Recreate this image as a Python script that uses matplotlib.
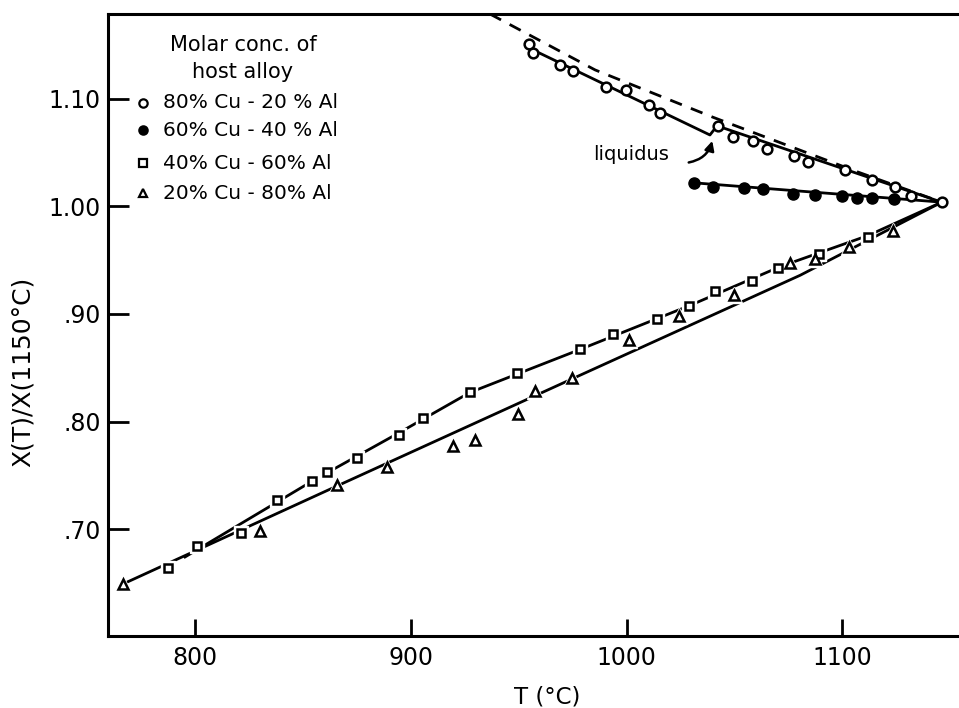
#!/usr/bin/env python3

"""
Relative solubility X(T)/X(1150 C) vs temperature for four Cu-Al host alloys.
"""

import matplotlib
matplotlib.use("Agg")
import matplotlib.pyplot as plt

# [data]
# --
# 80% Cu - 20% Al (open circles)
t_80 = [954.9, 956.5, 969.1, 975.3, 990.5, 999.6, 1010.4, 1015.6, 1042.2,
        1049.1, 1058.6, 1065.1, 1077.6, 1083.9, 1101.1, 1113.6, 1124.4,
        1131.6, 1146.0]
x_80 = [1.151, 1.143, 1.132, 1.126, 1.111, 1.108, 1.094, 1.087, 1.075,
        1.065, 1.061, 1.053, 1.047, 1.041, 1.034, 1.025, 1.018, 1.010, 1.004]

# 60% Cu - 40% Al (filled circles)
t_60 = [1031.2, 1039.9, 1054.5, 1063.3, 1077.2, 1087.3, 1099.9, 1106.6,
        1113.6, 1124.0]
x_60 = [1.022, 1.018, 1.017, 1.016, 1.012, 1.011, 1.010, 1.008, 1.008, 1.007]

# 40% Cu - 60% Al (open squares)
t_40 = [787.6, 801.1, 821.2, 838.1, 854.4, 861.0, 874.9, 894.4, 905.8, 927.6,
        949.4, 978.3, 993.8, 1014.2, 1029.1, 1041.0, 1058.0, 1070.2, 1089.3,
        1112.0]
x_40 = [0.664, 0.684, 0.696, 0.727, 0.745, 0.753, 0.766, 0.787, 0.803, 0.827,
        0.845, 0.867, 0.881, 0.895, 0.907, 0.921, 0.931, 0.943, 0.956, 0.972]

# 20% Cu - 80% Al (open triangles)
t_20 = [766.8, 830.1, 865.7, 889.1, 919.7, 929.7, 949.8, 957.6, 974.6, 1001.1,
        1024.3, 1049.9, 1075.7, 1087.3, 1103.2, 1123.4]
x_20 = [0.649, 0.698, 0.741, 0.758, 0.777, 0.783, 0.807, 0.828, 0.840, 0.876,
        0.898, 0.918, 0.947, 0.951, 0.962, 0.977]

# fitted curves drawn through the data
curve_80_t = [956.2, 1038.6, 1041.9, 1146.0]
curve_80_x = [1.146, 1.0665, 1.075, 1.004]
liquidus_t = [936.7, 985.4, 1040.0, 1107.2, 1146.0]
liquidus_x = [1.179, 1.127, 1.083, 1.032, 1.004]
curve_60_t = [1031.2, 1146.0]
curve_60_x = [1.022, 1.004]
curve_40_t = [795.4, 854.7, 895.0, 927.4, 978.4, 1029.4, 1071.1, 1111.9, 1146.0]
curve_40_x = [0.674, 0.745, 0.790, 0.827, 0.867, 0.908, 0.944, 0.973, 1.004]
curve_20_t = [766.8, 865.8, 978.4, 1080.4, 1146.0]
curve_20_x = [0.649, 0.740, 0.843, 0.936, 1.004]

x_ticks = [800, 900, 1000, 1100]
x_tick_labels = ["800", "900", "1000", "1100"]
y_ticks = [0.70, 0.80, 0.90, 1.00, 1.10]
y_tick_labels = [".70", ".80", ".90", "1.00", "1.10"]

legend_labels = ["80% Cu - 20 % Al", "60% Cu - 40 % Al",
                 "40% Cu - 60% Al", "20% Cu - 80% Al"]


def main():
    plt.rcParams["font.family"] = ["DejaVu Sans"]

    fig = plt.figure(figsize=(9.59, 7.08), dpi=100)
    ax = fig.add_axes([0.1126, 0.1017, 0.8874, 0.8785])

    lw = 2.0
    ms = 7

    # [curves]
    ax.plot(curve_80_t, curve_80_x, color="black", lw=lw, zorder=2)
    ax.plot(liquidus_t, liquidus_x, color="black", lw=lw, dashes=(4.5, 3.5),
            zorder=2)
    ax.plot(curve_60_t, curve_60_x, color="black", lw=lw, zorder=2)
    ax.plot(curve_40_t, curve_40_x, color="black", lw=lw, zorder=2)
    ax.plot(curve_20_t, curve_20_x, color="black", lw=lw, zorder=2)

    # [markers] white halo underneath gives the broken-line look
    for t, x, m, s in [(t_40, x_40, "s", ms - 1), (t_20, x_20, "^", ms)]:
        ax.plot(t, x, ls="none", marker=m, ms=s + 4, mfc="white", mec="white",
                zorder=3)
    ax.plot(t_80, x_80, ls="none", marker="o", ms=ms, mfc="white",
            mec="black", mew=1.8, zorder=4)
    ax.plot(t_60, x_60, ls="none", marker="o", ms=ms + 1, mfc="black",
            mec="black", zorder=4)
    ax.plot(t_40, x_40, ls="none", marker="s", ms=ms - 1, mfc="white",
            mec="black", mew=1.8, zorder=4)
    ax.plot(t_20, x_20, ls="none", marker="^", ms=ms, mfc="white",
            mec="black", mew=1.8, zorder=4)

    # [liquidus note]
    ax.text(1002, 1.048, "liquidus", fontsize=14, ha="center", va="center")
    ax.annotate("", xy=(1040.0, 1.0635), xytext=(1027.5, 1.0405),
                arrowprops=dict(arrowstyle="-|>", color="black", lw=1.8,
                                mutation_scale=14,
                                connectionstyle="arc3,rad=0.35"))

    # [legend] hand-lettered block
    ax.text(0.1586, 0.950, "Molar conc. of", transform=ax.transAxes,
            fontsize=15, ha="center", va="center")
    ax.text(0.1586, 0.907, "host alloy", transform=ax.transAxes,
            fontsize=15, ha="center", va="center")
    rows = [0.857, 0.8135, 0.760, 0.712]
    styles = [dict(marker="o", mfc="white"), dict(marker="o", mfc="black"),
              dict(marker="s", mfc="white"), dict(marker="^", mfc="white")]
    for y, lab, st in zip(rows, legend_labels, styles):
        ax.plot([0.041], [y], transform=ax.transAxes, ls="none", ms=6,
                mec="black", mew=1.6, **st)
        ax.text(0.0646, y, lab, transform=ax.transAxes, fontsize=14.5,
                ha="left", va="center")

    # [axes]
    ax.set_xlim(759.7, 1154.0)
    ax.set_ylim(0.6005, 1.179)
    ax.set_xticks(x_ticks, x_tick_labels)
    ax.set_yticks(y_ticks, y_tick_labels)
    ax.tick_params(direction="in", width=2, labelsize=17)
    ax.tick_params(axis="y", length=15, pad=5)
    ax.tick_params(axis="x", length=12, pad=7)
    for side in ["left", "bottom", "top"]:
        ax.spines[side].set_linewidth(2.2)
    ax.spines["right"].set_visible(False)

    ax.set_xlabel("T (°C)", fontsize=16.5)
    ax.xaxis.set_label_coords(0.516, -0.080)
    ax.set_ylabel("X(T)/X(1150°C)", fontsize=18)
    ax.yaxis.set_label_coords(-0.086, 0.424)

    fig.savefig("out.png", dpi=100)


if __name__ == "__main__":
    main()
